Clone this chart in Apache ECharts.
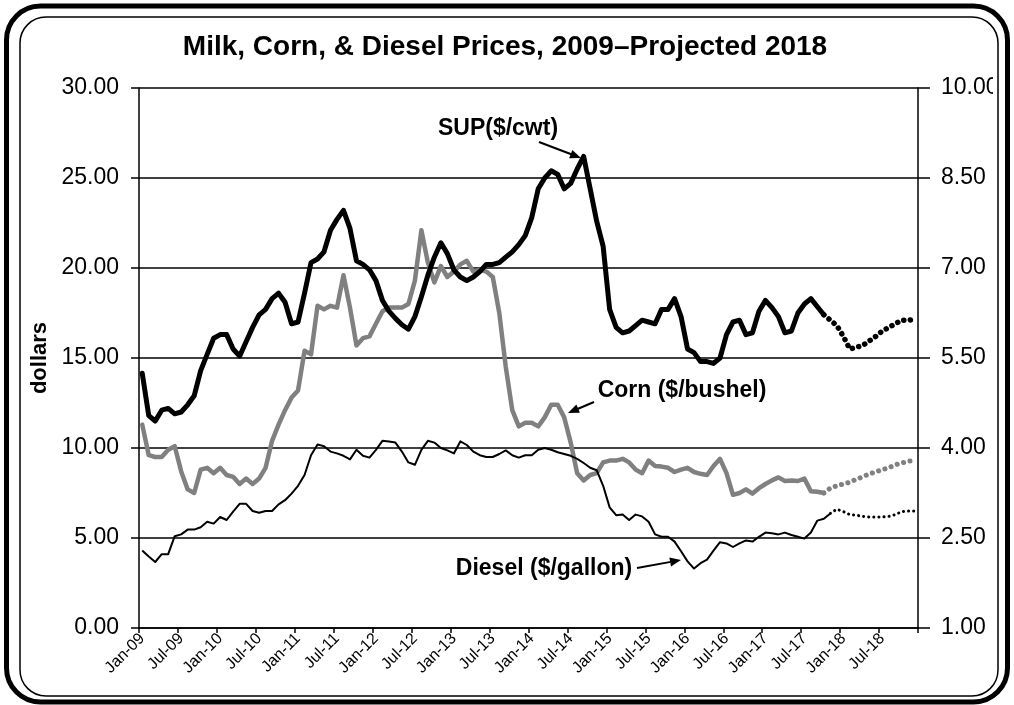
<!DOCTYPE html>
<html>
<head>
<meta charset="utf-8">
<script src="https://cdn.jsdelivr.net/npm/echarts@6/dist/echarts.min.js"></script>
<style>
html,body{margin:0;padding:0;background:#fff;}
#chart{width:1014px;height:705px;}
</style>
</head>
<body>
<div id="chart"></div>
<script>
// ---- categories (monthly, Jan-09 .. Dec-18) ----
const monthNames = ['Jan','Feb','Mar','Apr','May','Jun','Jul','Aug','Sep','Oct','Nov','Dec'];
const yearLabels = ['09','10','11','12','13','14','15','16','17','18'];
const categories = [];
yearLabels.forEach(y => monthNames.forEach(m => categories.push(m + '-' + y)));

// ---- axis ticks ----
const leftAxisTicks = [0, 5, 10, 15, 20, 25, 30];
const rightAxisTicks = [1.00, 2.50, 4.00, 5.50, 7.00, 8.50, 10.00];

// ---- SUP milk price ($/cwt), left axis ----
const supPrice = [
14.15,11.8,11.5,12.1,12.2,11.9,12.0,12.4,12.9,14.3,15.2,16.1,
16.3,16.3,15.5,15.1,15.9,16.7,17.4,17.7,18.3,18.6,18.1,16.9,
17.0,18.6,20.3,20.5,20.9,22.1,22.7,23.2,22.2,20.4,20.2,19.9,
19.3,18.2,17.6,17.2,16.85,16.6,17.3,18.4,19.6,20.6,21.4,20.8,
19.9,19.5,19.3,19.5,19.8,20.2,20.2,20.3,20.6,20.9,21.3,21.8,
22.8,24.4,25.0,25.4,25.2,24.4,24.7,25.5,26.2,24.4,22.6,21.2,
17.7,16.7,16.4,16.5,16.8,17.1,17.0,16.9,17.7,17.7,18.3,17.3,
15.5,15.3,14.8,14.8,14.7,15.0,16.3,17.0,17.1,16.3,16.4,17.6,
18.2,17.8,17.3,16.4,16.5,17.5,18.0,18.3,17.85,17.4,17.1,16.8,
16.2,15.5,15.6,15.7,15.95,16.2,16.5,16.7,16.9,17.1,17.1,17.15
];
// ---- Corn price ($/bushel), right axis ----
const cornPrice = [
4.39,3.88,3.85,3.85,3.97,4.03,3.61,3.31,3.25,3.64,3.67,3.58,
3.67,3.55,3.52,3.40,3.49,3.40,3.49,3.67,4.12,4.39,4.63,4.84,
4.96,5.62,5.56,6.37,6.31,6.37,6.34,6.88,6.34,5.71,5.83,5.86,
6.07,6.28,6.34,6.34,6.34,6.40,6.79,7.63,7.09,6.76,7.03,6.85,
6.94,7.06,7.12,6.94,6.97,6.94,6.85,6.25,5.35,4.63,4.36,4.42,
4.42,4.36,4.51,4.72,4.72,4.51,4.09,3.58,3.46,3.55,3.58,3.76,
3.79,3.79,3.82,3.76,3.64,3.58,3.79,3.70,3.69,3.67,3.60,3.64,
3.67,3.60,3.57,3.55,3.70,3.82,3.58,3.22,3.25,3.31,3.24,3.33,
3.40,3.46,3.51,3.45,3.46,3.45,3.49,3.28,3.27,3.25,3.33,3.37,
3.40,3.43,3.48,3.52,3.57,3.60,3.64,3.67,3.72,3.75,3.78,3.79
];
// ---- Diesel price ($/gallon), right axis ----
const dieselPrice = [
2.29,2.19,2.10,2.23,2.23,2.53,2.56,2.64,2.64,2.68,2.77,2.74,
2.85,2.80,2.94,3.07,3.07,2.95,2.92,2.95,2.95,3.06,3.13,3.24,
3.37,3.55,3.88,4.06,4.03,3.94,3.91,3.87,3.81,3.97,3.87,3.84,
3.97,4.12,4.11,4.09,3.94,3.76,3.72,3.97,4.12,4.09,4.00,3.96,
3.91,4.11,4.05,3.94,3.88,3.85,3.85,3.90,3.96,3.88,3.84,3.88,
3.88,3.97,4.00,3.97,3.93,3.90,3.87,3.82,3.75,3.67,3.63,3.37,
3.01,2.88,2.89,2.80,2.89,2.86,2.77,2.56,2.52,2.52,2.44,2.28,
2.11,1.99,2.08,2.14,2.29,2.43,2.41,2.35,2.41,2.46,2.44,2.52,
2.59,2.58,2.56,2.59,2.55,2.52,2.49,2.59,2.79,2.82,2.91,2.98,
2.94,2.89,2.88,2.86,2.85,2.85,2.85,2.86,2.89,2.94,2.95,2.95
];
// index where the projected (dotted) part begins
const supProjStart = 105;
const cornProjStart = 105;
const dieselProjStart = 106;

function actualPart(arr, s) { return arr.map((v, i) => (i <= s ? v : null)); }
function projPart(arr, s) { return arr.map((v, i) => (i >= s ? v : null)); }

const FONT = '"Liberation Sans", Arial, Helvetica, sans-serif';

function arrow(x1, y1, x2, y2) {
  const dx = x2 - x1, dy = y2 - y1, len = Math.sqrt(dx * dx + dy * dy);
  const ux = dx / len, uy = dy / len, L = 11, W = 4.5;
  const bx = x2 - ux * L, by = y2 - uy * L;
  return [
    { type: 'polyline', z: 50, shape: { points: [[x1, y1], [bx + ux * 2, by + uy * 2]] },
      style: { stroke: '#000', lineWidth: 2, fill: null } },
    { type: 'polygon', z: 50, shape: { points: [[x2, y2], [bx - uy * W, by + ux * W], [bx + uy * W, by - ux * W]] },
      style: { fill: '#000', stroke: null } }
  ];
}

const chart = echarts.init(document.getElementById('chart'), null, { renderer: 'canvas' });

const dotted = (w) => ({ type: [0.1, 6.5], cap: 'round', width: w });

const option = {
  animation: false,
  backgroundColor: '#fff',
  grid: { left: 139, right: 96, top: 88, bottom: 77, containLabel: false },
  xAxis: {
    type: 'category',
    data: categories,
    boundaryGap: true,
    axisLine: { show: true, lineStyle: { color: '#000', width: 1.5 } },
    axisTick: { show: true, interval: 5, length: 5, lineStyle: { color: '#000', width: 1.5 } },
    axisLabel: { interval: 5, rotate: 45, fontSize: 16, color: '#000', fontFamily: FONT, margin: 8 },
    splitLine: { show: false }
  },
  yAxis: [
    {
      type: 'value', min: leftAxisTicks[0], max: leftAxisTicks[leftAxisTicks.length - 1], interval: 5,
      position: 'left',
      name: 'dollars', nameLocation: 'middle', nameGap: 86, nameRotate: 90,
      nameTextStyle: { fontSize: 22, fontWeight: 'bold', color: '#000', fontFamily: FONT },
      axisLine: { show: true, lineStyle: { color: '#000', width: 1.5 } },
      axisTick: { show: true, length: 8, lineStyle: { color: '#000', width: 1.5 } },
      axisLabel: { formatter: v => v.toFixed(2), fontSize: 23, color: '#000', fontFamily: FONT, margin: 20 },
      splitLine: { show: true, lineStyle: { color: '#000', width: 1.5 } }
    },
    {
      type: 'value', min: rightAxisTicks[0], max: rightAxisTicks[rightAxisTicks.length - 1], interval: 1.5,
      position: 'right',
      axisLine: { show: true, lineStyle: { color: '#000', width: 1.5 } },
      axisTick: { show: true, length: 12, lineStyle: { color: '#000', width: 1.5 } },
      axisLabel: { formatter: v => v.toFixed(2), fontSize: 23, color: '#000', fontFamily: FONT, margin: 23 },
      splitLine: { show: false }
    }
  ],
  series: [
    { name: 'Corn', type: 'line', yAxisIndex: 1, data: actualPart(cornPrice, cornProjStart), symbol: 'none',
      lineStyle: { color: '#808080', width: 4.5, join: 'round', cap: 'round' }, z: 2, connectNulls: false },
    { name: 'Corn proj', type: 'line', yAxisIndex: 1, data: projPart(cornPrice, cornProjStart), symbol: 'none',
      lineStyle: Object.assign({ color: '#808080' }, dotted(5)), z: 2 },
    { name: 'Diesel', type: 'line', yAxisIndex: 1, data: actualPart(dieselPrice, dieselProjStart), symbol: 'none',
      lineStyle: { color: '#000', width: 2, join: 'round' }, z: 3 },
    { name: 'Diesel proj', type: 'line', yAxisIndex: 1, data: projPart(dieselPrice, dieselProjStart), symbol: 'none',
      lineStyle: Object.assign({ color: '#000' }, { type: [0.1, 5], cap: 'round', width: 3 }), z: 3 },
    { name: 'SUP', type: 'line', yAxisIndex: 0, data: actualPart(supPrice, supProjStart), symbol: 'none',
      lineStyle: { color: '#000', width: 5, join: 'round', cap: 'round' }, z: 4 },
    { name: 'SUP proj', type: 'line', yAxisIndex: 0, data: projPart(supPrice, supProjStart), symbol: 'none',
      lineStyle: Object.assign({ color: '#000' }, dotted(5.5)), z: 4 }
  ],
  graphic: [].concat(
    [
      { type: 'text', z: 50, x: 505, y: 47,
        style: { text: 'Milk, Corn, & Diesel Prices, 2009\u2013Projected 2018', fill: '#000',
          font: 'bold 28px ' + FONT, textAlign: 'center', textVerticalAlign: 'middle' } },
      { type: 'text', z: 50, x: 498, y: 129,
        style: { text: 'SUP($/cwt)', fill: '#000', font: 'bold 23px ' + FONT, textAlign: 'center', textVerticalAlign: 'middle' } },
      { type: 'text', z: 50, x: 682, y: 391,
        style: { text: 'Corn ($/bushel)', fill: '#000', font: 'bold 23px ' + FONT, textAlign: 'center', textVerticalAlign: 'middle' } },
      { type: 'text', z: 50, x: 544, y: 569,
        style: { text: 'Diesel ($/gallon)', fill: '#000', font: 'bold 23px ' + FONT, textAlign: 'center', textVerticalAlign: 'middle' } }
    ],
    arrow(539, 142, 581, 158),
    arrow(594, 402, 568, 413),
    arrow(637, 568, 681, 560),
    [
      { type: 'rect', z: 90, shape: { x: 993, y: 60, width: 21, height: 60 }, style: { fill: '#fff', stroke: null } },
      { type: 'rect', z: 100, shape: { x: 20, y: 17, width: 978, height: 679, r: 26 },
        style: { fill: null, stroke: '#000', lineWidth: 1.5 } },
      { type: 'rect', z: 100, shape: { x: 6.5, y: 6, width: 1001, height: 696, r: 34 },
        style: { fill: null, stroke: '#000', lineWidth: 5 } }
    ]
  )
};
chart.setOption(option);
</script>
</body>
</html>
